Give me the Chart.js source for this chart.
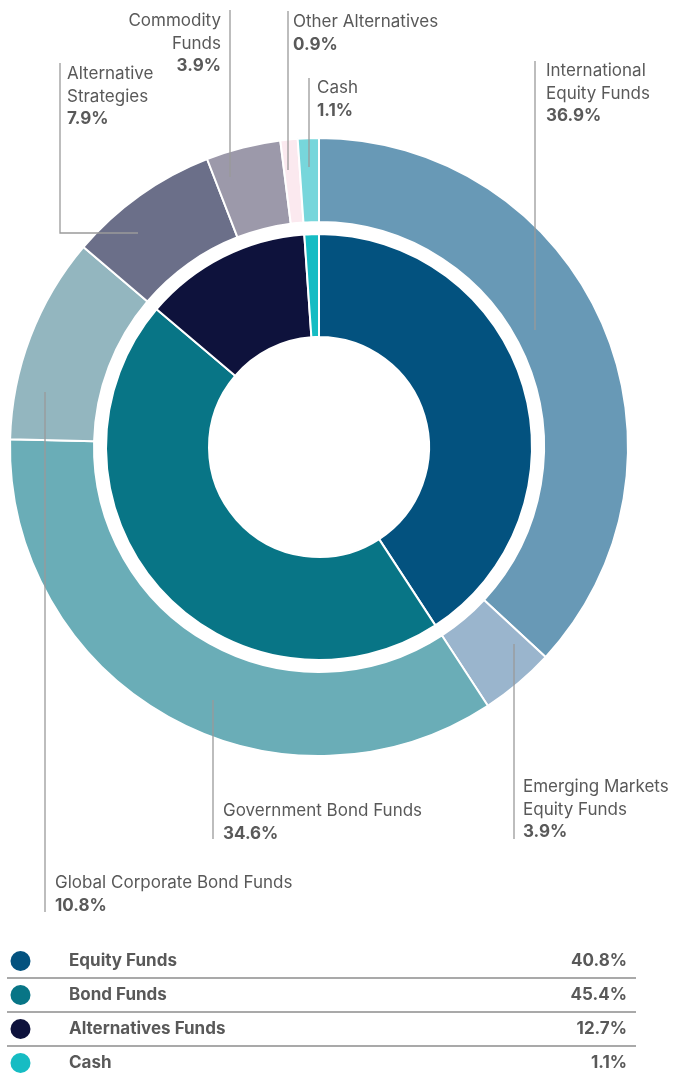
<!DOCTYPE html>
<html>
<head>
<meta charset="utf-8">
<script src="https://cdn.jsdelivr.net/npm/chart.js@4.4.1/dist/chart.umd.min.js"></script>
<style>
  html, body { margin: 0; padding: 0; background: #ffffff; }
  #wrap { position: relative; width: 673px; height: 1075px; }
  canvas { display: block; }
</style>
</head>
<body>
<div id="wrap"><canvas id="c" width="673" height="1075"></canvas></div>
<script>
// ---- DATA ----
const subCategories = [
  'International Equity Funds',
  'Emerging Markets Equity Funds',
  'Government Bond Funds',
  'Global Corporate Bond Funds',
  'Alternative Strategies',
  'Commodity Funds',
  'Other Alternatives',
  'Cash'
];
const subValues = [36.9, 3.9, 34.6, 10.8, 7.9, 3.9, 0.9, 1.1];
const subColors = ['#6899b6', '#9ab5cd', '#6aadb7', '#93b6bf', '#6b6f89', '#9c99aa', '#fbe9ef', '#77d6db'];

const mainCategories = ['Equity Funds', 'Bond Funds', 'Alternatives Funds', 'Cash'];
const mainValues = [40.8, 45.4, 12.7, 1.1];
const mainColors = ['#03527f', '#087586', '#0e123c', '#16bcc3'];

// label text lines for the outer ring (index matches subCategories)
const subLabelLines = [
  ['International', 'Equity Funds'],
  ['Emerging Markets', 'Equity Funds'],
  ['Government Bond Funds'],
  ['Global Corporate Bond Funds'],
  ['Alternative', 'Strategies'],
  ['Commodity', 'Funds'],
  ['Other Alternatives'],
  ['Cash']
];

// ---- annotation layout (label placement, leader lines) ----
const labelLayout = [
  { x: 546, y: 71,  align: 'left',  line: [[535, 61], [535, 330]] },
  { x: 523, y: 787, align: 'left',  line: [[514, 644], [514, 839]] },
  { x: 223, y: 811, align: 'left',  line: [[213, 700], [213, 839]] },
  { x: 55,  y: 883, align: 'left',  line: [[45, 392], [45, 912]] },
  { x: 67,  y: 74,  align: 'left',  line: [[60, 63], [60, 233], [138, 233]] },
  { x: 221, y: 21,  align: 'right', line: [[230, 10], [230, 177]] },
  { x: 293, y: 22,  align: 'left',  line: [[288, 11], [288, 170]] },
  { x: 317, y: 88,  align: 'left',  line: [[309, 78], [309, 167]] }
];

const LINE_H = 22.5;
const TEXT_COLOR = '#595959';
const FONT = 'Inter, Roboto, "Liberation Sans", sans-serif';

const annotationPlugin = {
  id: 'annotations',
  afterDraw(chart) {
    const ctx = chart.ctx;
    ctx.save();
    // leader lines
    ctx.strokeStyle = '#9a9a9a';
    ctx.lineWidth = 1.3;
    labelLayout.forEach(l => {
      ctx.beginPath();
      l.line.forEach((p, i) => i === 0 ? ctx.moveTo(p[0], p[1]) : ctx.lineTo(p[0], p[1]));
      ctx.stroke();
    });
    // labels
    ctx.textBaseline = 'middle';
    labelLayout.forEach((l, i) => {
      ctx.textAlign = l.align;
      ctx.fillStyle = TEXT_COLOR;
      const lines = subLabelLines[i];
      ctx.font = '400 17px ' + FONT;
      lines.forEach((t, k) => ctx.fillText(t, l.x, l.y + k * LINE_H));
      ctx.font = '700 17px ' + FONT;
      ctx.fillText(subValues[i].toFixed(1) + '%', l.x, l.y + lines.length * LINE_H);
    });
    // legend table
    const rowY0 = 961, rowH = 34;
    mainCategories.forEach((name, i) => {
      const y = rowY0 + i * rowH;
      ctx.fillStyle = mainColors[i];
      ctx.beginPath();
      ctx.arc(20.5, y, 10, 0, Math.PI * 2);
      ctx.fill();
      ctx.fillStyle = TEXT_COLOR;
      ctx.font = '700 17px ' + FONT;
      ctx.textAlign = 'left';
      ctx.fillText(name, 69, y);
      ctx.textAlign = 'right';
      ctx.fillText(mainValues[i].toFixed(1) + '%', 627, y);
      if (i < mainCategories.length - 1) {
        ctx.strokeStyle = '#8c8c8c';
        ctx.lineWidth = 1.3;
        ctx.beginPath();
        ctx.moveTo(7, y + 17);
        ctx.lineTo(636, y + 17);
        ctx.stroke();
      }
    });
    ctx.restore();
  }
};

new Chart(document.getElementById('c'), {
  type: 'doughnut',
  data: {
    labels: subCategories,
    datasets: [
      {
        label: 'Sub-asset classes',
        data: subValues,
        backgroundColor: subColors,
        borderColor: '#ffffff',
        borderWidth: 2,
        weight: 84
      },
      {
        label: 'gap',
        data: [100],
        backgroundColor: 'rgba(0,0,0,0)',
        borderWidth: 0,
        weight: 12
      },
      {
        label: 'Asset classes',
        data: mainValues,
        backgroundColor: mainColors,
        borderColor: '#ffffff',
        borderWidth: 2,
        weight: 103
      }
    ]
  },
  options: {
    responsive: false,
    animation: false,
    cutout: 110,
    layout: { padding: { left: 9, right: 44, top: 137, bottom: 318 } },
    plugins: {
      legend: { display: false },
      tooltip: { enabled: false }
    },
    events: []
  },
  plugins: [annotationPlugin]
});
</script>
</body>
</html>
